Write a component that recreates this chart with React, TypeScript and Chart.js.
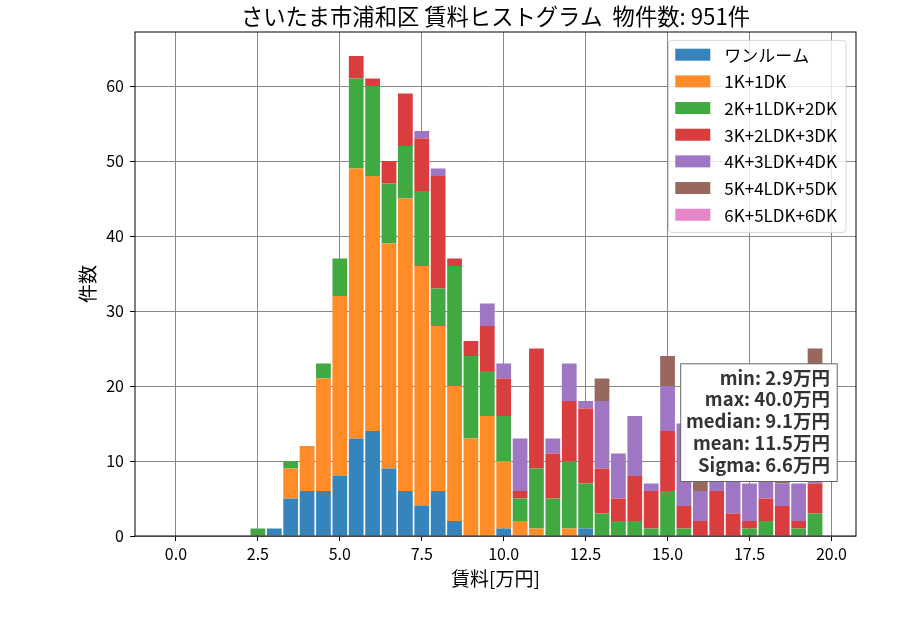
import React, { useEffect, useRef } from "react";
import { Chart, registerables } from "chart.js";

Chart.register(...registerables);

// ---- data ----
const binCenters = [
  2.5, 3.0, 3.5, 4.0, 4.5, 5.0, 5.5, 6.0, 6.5, 7.0, 7.5, 8.0, 8.5, 9.0, 9.5, 10.0, 10.5, 11.0,
  11.5, 12.0, 12.5, 13.0, 13.5, 14.0, 14.5, 15.0, 15.5, 16.0, 16.5, 17.0, 17.5, 18.0, 18.5, 19.0, 19.5,
];

const seriesLabels = [
  "ワンルーム",
  "1K+1DK",
  "2K+1LDK+2DK",
  "3K+2LDK+3DK",
  "4K+3LDK+4DK",
  "5K+4LDK+5DK",
  "6K+5LDK+6DK",
];

const oneRoom = [0, 1, 5, 6, 6, 8, 13, 14, 9, 6, 4, 6, 2, 0, 0, 1, 0, 0, 0, 0, 1, 0, 0, 0, 0, 0, 0, 0, 0, 0, 0, 0, 0, 0, 0];
const k1dk1 = [0, 0, 4, 6, 15, 24, 36, 34, 30, 39, 32, 22, 18, 13, 16, 9, 2, 1, 0, 1, 0, 0, 0, 0, 0, 0, 0, 0, 0, 0, 0, 0, 0, 0, 0];
const ldk1 = [1, 0, 1, 0, 2, 5, 12, 12, 8, 7, 10, 5, 16, 11, 6, 6, 3, 8, 5, 9, 6, 3, 2, 2, 1, 6, 1, 0, 0, 0, 1, 2, 0, 1, 3];
const ldk2 = [0, 0, 0, 0, 0, 0, 3, 1, 3, 7, 7, 15, 1, 2, 6, 5, 1, 16, 6, 8, 10, 6, 3, 6, 5, 8, 3, 2, 6, 3, 1, 3, 4, 1, 4];
const ldk3 = [0, 0, 0, 0, 0, 0, 0, 0, 0, 0, 1, 1, 0, 0, 3, 2, 7, 0, 2, 5, 1, 9, 6, 8, 1, 6, 11, 4, 4, 6, 5, 4, 3, 5, 14];
const ldk4 = [0, 0, 0, 0, 0, 0, 0, 0, 0, 0, 0, 0, 0, 0, 0, 0, 0, 0, 0, 0, 0, 3, 0, 0, 0, 4, 0, 3, 0, 0, 0, 0, 2, 0, 4];
const ldk5 = [0, 0, 0, 0, 0, 0, 0, 0, 0, 0, 0, 0, 0, 0, 0, 0, 0, 0, 0, 0, 0, 0, 0, 0, 0, 0, 0, 0, 0, 0, 0, 0, 0, 0, 0];

const seriesValues = [oneRoom, k1dk1, ldk1, ldk2, ldk3, ldk4, ldk5];

const seriesColors = ["#3585bc", "#ff8c26", "#41a941", "#da3d3e", "#9f76c4", "#98675d", "#e685c8"];

const xTickValues = [0, 2.5, 5, 7.5, 10, 12.5, 15, 17.5, 20];
const yTickValues = [0, 10, 20, 30, 40, 50, 60];

const titleText = "さいたま市浦和区 賃料ヒストグラム  物件数: 951件";
const xLabel = "賃料[万円]";
const yLabel = "件数";
const statsLines = ["min: 2.9万円", "max: 40.0万円", "median: 9.1万円", "mean: 11.5万円", "Sigma: 6.6万円"];

const FONT = '"Noto Sans CJK JP", "Noto Sans", sans-serif';

const decorPlugin = {
  id: "decor",
  afterDraw(chart: any) {
    const ctx = chart.ctx as CanvasRenderingContext2D;
    const { left, right, top, bottom } = chart.chartArea;
    ctx.save();

    // frame (spines)
    ctx.strokeStyle = "#000";
    ctx.lineWidth = 1;
    ctx.strokeRect(left, top, right - left, bottom - top);

    // title
    ctx.fillStyle = "#000";
    ctx.textAlign = "center";
    ctx.textBaseline = "middle";
    ctx.font = `22.3px ${FONT}`;
    ctx.fillText(titleText, (left + right) / 2, 16.5);

    // axis labels
    ctx.font = `19px ${FONT}`;
    ctx.fillText(xLabel, (left + right) / 2, 579);
    ctx.save();
    ctx.translate(88, (top + bottom) / 2);
    ctx.rotate(-Math.PI / 2);
    ctx.fillText(yLabel, 0, 0);
    ctx.restore();

    // legend
    const lw = 177.4;
    const lh = 192;
    const lx = right - 10 - lw;
    const ly = top + 8.4;
    ctx.beginPath();
    (ctx as any).roundRect(lx, ly, lw, lh, 3);
    ctx.fillStyle = "rgba(255,255,255,0.8)";
    ctx.fill();
    ctx.strokeStyle = "rgba(204,204,204,0.8)";
    ctx.lineWidth = 1;
    ctx.stroke();
    ctx.font = `17px ${FONT}`;
    ctx.textAlign = "left";
    ctx.textBaseline = "middle";
    chart.data.datasets.forEach((ds: any, i: number) => {
      const cy = ly + 14.3 + i * 26.67;
      ctx.fillStyle = ds.backgroundColor;
      ctx.fillRect(lx + 6.7, cy - 6, 35, 12);
      ctx.fillStyle = "#000";
      ctx.fillText(ds.label, lx + 55.7, cy + 0.5);
    });

    // stats box
    const bx = 680.7;
    const by = 363.8;
    const bw = 156.5;
    const bh = 117.7;
    ctx.fillStyle = "#fff";
    ctx.fillRect(bx, by, bw, bh);
    ctx.strokeStyle = "#666";
    ctx.lineWidth = 1;
    ctx.strokeRect(bx, by, bw, bh);
    ctx.font = `bold 18.5px ${FONT}`;
    ctx.fillStyle = "#333";
    ctx.textAlign = "right";
    ctx.textBaseline = "middle";
    statsLines.forEach((line, i) => {
      ctx.fillText(line, 830, 377.5 + i * 21.9);
    });

    ctx.restore();
  },
};

export default function App() {
  const canvasRef = useRef<HTMLCanvasElement | null>(null);

  useEffect(() => {
    if (!canvasRef.current) return;
    const datasets = seriesLabels.map((label, si) => ({
      label,
      data: binCenters.map((x, i) => ({ x, y: seriesValues[si][i] })),
      backgroundColor: seriesColors[si],
      borderWidth: 0,
      barPercentage: 0.9,
      categoryPercentage: 1.0,
    }));

    const chart = new Chart(canvasRef.current, {
      type: "bar",
      data: { datasets },
      options: {
        responsive: false,
        animation: false,
        devicePixelRatio: 1,
        layout: { padding: { top: 32, right: 44, left: 0, bottom: 0 } },
        plugins: {
          legend: { display: false },
          title: { display: false },
          tooltip: { enabled: false },
        },
        scales: {
          x: {
            type: "linear",
            stacked: true,
            min: -1.25,
            max: 20.75,
            z: 1,
            offset: false,
            border: { display: false },
            grid: { offset: false, color: "#888", lineWidth: 1, tickColor: "#000", tickLength: 5, drawTicks: true },
            ticks: {
              color: "#000",
              font: { family: FONT, size: 16 },
              padding: 3,
              maxRotation: 0,
              autoSkip: false,
              callback: (v: any) => Number(v).toFixed(1),
            },
            afterBuildTicks: (axis: any) => {
              axis.ticks = xTickValues.map((v) => ({ value: v }));
            },
            afterFit: (axis: any) => {
              axis.height = 94;
            },
          },
          y: {
            type: "linear",
            stacked: true,
            min: 0,
            max: 67.2,
            z: 1,
            border: { display: false },
            grid: { offset: false, color: "#888", lineWidth: 1, tickColor: "#000", tickLength: 5, drawTicks: true },
            ticks: {
              color: "#000",
              font: { family: FONT, size: 16 },
              padding: 6,
              autoSkip: false,
              callback: (v: any) => String(v),
            },
            afterBuildTicks: (axis: any) => {
              axis.ticks = yTickValues.map((v) => ({ value: v }));
            },
            afterFit: (axis: any) => {
              axis.width = 135;
            },
          },
        },
      } as any,
      plugins: [decorPlugin],
    });
    return () => chart.destroy();
  }, []);

  return (
    <div style={{ position: "fixed", left: 0, top: 0, width: 900, height: 630, background: "#fff" }}>
      <canvas ref={canvasRef} width={900} height={630} style={{ display: "block" }} />
    </div>
  );
}
